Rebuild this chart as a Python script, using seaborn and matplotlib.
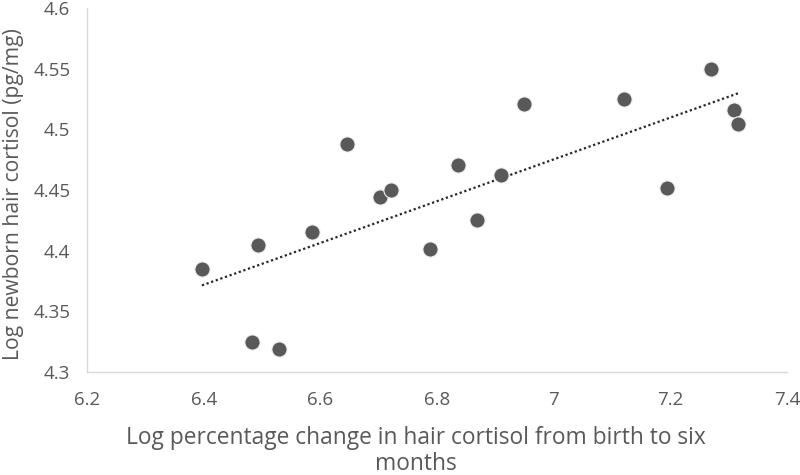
import matplotlib
matplotlib.use("Agg")
import matplotlib.pyplot as plt
import seaborn as sns
import numpy as np
import pandas as pd

# values
log_change = [6.397, 6.493, 6.483, 6.529, 6.586, 6.646, 6.702, 6.721, 6.788,
              6.836, 6.869, 6.910, 6.949, 7.121, 7.194, 7.270, 7.309, 7.316]
log_newborn = [4.385, 4.405, 4.325, 4.319, 4.415, 4.488, 4.444, 4.450, 4.401,
               4.471, 4.425, 4.462, 4.521, 4.525, 4.452, 4.550, 4.516, 4.504]
x_ticks = [6.2, 6.4, 6.6, 6.8, 7, 7.2, 7.4]
y_ticks = [4.3, 4.35, 4.4, 4.45, 4.5, 4.55, 4.6]

df = pd.DataFrame({"x": log_change, "y": log_newborn})

sns.set_style("white")
plt.rcParams['font.family'] = ['Open Sans', 'DejaVu Sans']

fig = plt.figure(figsize=(8, 4.75), dpi=100)
ax = fig.add_axes([0.10875, 0.2168, 0.875, 0.7664])

grey = "#595959"
sns.scatterplot(data=df, x="x", y="y", ax=ax, s=120, color=grey,
                edgecolor="#f2f2f2", linewidth=0.8, zorder=3)

# linear trendline
slope, intercept = np.polyfit(df["x"], df["y"], 1)
xs = np.array([df["x"].min(), df["x"].max()])
ax.plot(xs, slope * xs + intercept, color="#262626", linestyle=(0, (1, 1.2)),
        linewidth=1.6, zorder=2)

ax.set_xlim(6.2, 7.4)
ax.set_ylim(4.3, 4.6)
ax.set_xticks(x_ticks)
ax.set_xticklabels([f"{t:g}" for t in x_ticks])
ax.set_yticks(y_ticks)
ax.set_yticklabels([f"{t:g}" for t in y_ticks])
ax.tick_params(axis="both", length=0, labelsize=13.5, colors=grey)
ax.tick_params(axis="x", pad=14)
ax.tick_params(axis="y", pad=12)

for side in ["top", "right"]:
    ax.spines[side].set_visible(False)
for side in ["left", "bottom"]:
    ax.spines[side].set_color("#d9d9d9")
    ax.spines[side].set_linewidth(1)

ax.set_xlabel("Log percentage change in hair cortisol from birth to six\nmonths",
              fontsize=16.4, color=grey, linespacing=1.1)
ax.xaxis.set_label_coords(0.47, -0.148)
ax.set_ylabel("Log newborn hair cortisol (pg/mg)", fontsize=15.2, color=grey)
ax.yaxis.set_label_coords(-0.09, 0.49)

fig.savefig("out.png", dpi=100)
